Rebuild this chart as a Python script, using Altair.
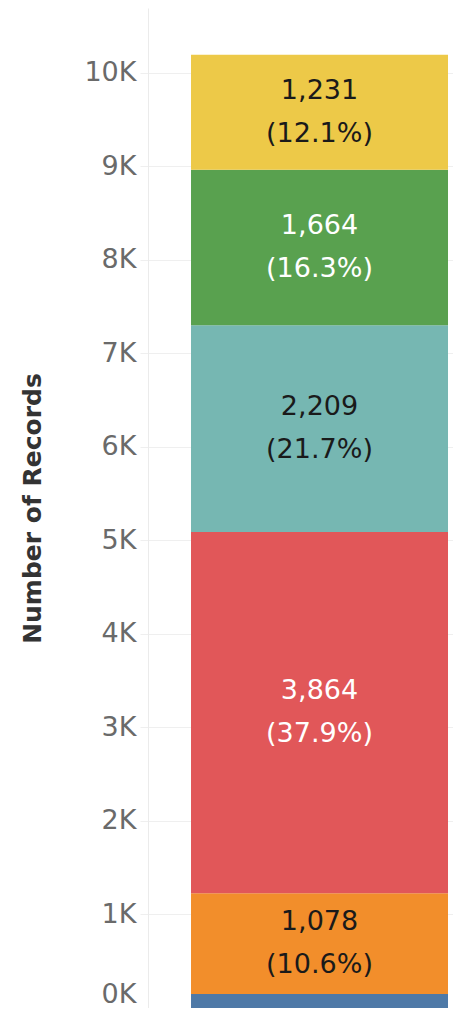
import altair as alt
import pandas as pd

# Data (bottom segment is partly cropped in the original)
categories = ["Segment A", "Segment B", "Segment C", "Segment D", "Segment E", "Segment F"]
counts = [150, 1078, 3864, 2209, 1664, 1231]
pct_labels = ["(1.5%)", "(10.6%)", "(37.9%)", "(21.7%)", "(16.3%)", "(12.1%)"]
show_label = [False, True, True, True, True, True]
colors = ["#4E79A7", "#F28E2B", "#E15759", "#76B7B2", "#59A14F", "#EDC948"]
text_colors = ["#ffffff", "#1a1a1a", "#ffffff", "#1a1a1a", "#ffffff", "#1a1a1a"]
y_ticks = [0, 1000, 2000, 3000, 4000, 5000, 6000, 7000, 8000, 9000, 10000]

df = pd.DataFrame({
    "grp": ["All"] * len(categories),
    "idx": list(range(len(categories))),
    "category": categories,
    "count": counts,
    "label": [f"{c:,}\n{p}" for c, p in zip(counts, pct_labels)],
    "show": show_label,
    "tcolor": text_colors,
})

base = alt.Chart(df).transform_stack(
    stack="count",
    as_=["y0", "y1"],
    groupby=["grp"],
    sort=[alt.SortField("idx", order="ascending")],
).transform_calculate(mid="(datum.y0 + datum.y1) / 2")

x_enc = alt.X(
    "grp:N",
    axis=None,
    scale=alt.Scale(paddingInner=0, paddingOuter=0.0934, align=0.896),
)

y_scale = alt.Scale(domain=[0, 10695], nice=False, zero=True)

bars = base.mark_bar().encode(
    x=x_enc,
    y=alt.Y(
        "y0:Q",
        scale=y_scale,
        title="Number of Records",
        axis=alt.Axis(
            values=y_ticks,
            labelExpr="datum.value / 1000 + 'K'",
            grid=True,
            gridColor="#efefef",
            domainColor="#ebebeb",
            tickColor="#efefef",
            tickSize=8,
            labelPadding=4,
            labelFont="DejaVu Sans",
            labelFontSize=27,
            labelColor="#6a6a6a",
            labelFlush=True,
            titleFont="DejaVu Sans",
            titleFontSize=25,
            titleFontWeight="bold",
            titleColor="#333333",
            titlePadding=38,
        ),
    ),
    y2="y1:Q",
    color=alt.Color(
        "category:N",
        scale=alt.Scale(domain=categories, range=colors),
        legend=None,
    ),
)

texts = base.transform_filter("datum.show").mark_text(
    font="DejaVu Sans",
    fontSize=27,
    lineBreak="\n",
    lineHeight=43,
    baseline="middle",
    align="center",
    dy=-21.5,
).encode(
    x=x_enc,
    y=alt.Y("mid:Q", scale=y_scale),
    text="label:N",
    color=alt.Color("tcolor:N", scale=None),
)

chart = (
    alt.layer(bars, texts)
    .properties(
        width=305,
        height=1000,
        padding={"left": 140, "top": 0, "right": 0, "bottom": 0},
        autosize=alt.AutoSizeParams(type="none"),
    )
    .configure_view(stroke=None)
)

chart.save("out.html", embed_options={"renderer": "svg", "actions": False})
